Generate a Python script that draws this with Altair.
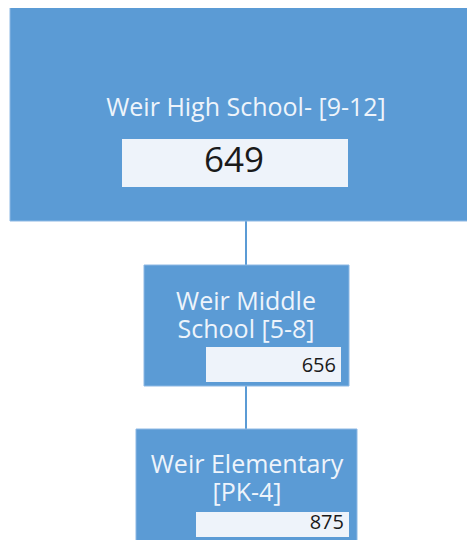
import altair as alt
import pandas as pd

# ---- data ----
schools = ["Weir High School- [9-12]", "Weir Middle\nSchool [5-8]", "Weir Elementary\n[PK-4]"]
enrollment = [649, 656, 875]

# ---- layout (diagram geometry, page pixel units) ----
box_x = [10, 144, 136]
box_x2 = [485, 349, 357]
box_y = [7, 265, 429]
box_y2 = [221, 386, 548]
label_x = [246, 246, 247]
label_y = [116, 310, 473]
vbox_x = [122, 206, 196]
vbox_x2 = [348, 341, 349]
vbox_y = [139, 347, 512]
vbox_y2 = [187, 382, 537]
val_x = [234, 336, 344]
val_y = [172, 372, 529]
link_x = [246, 246]
link_y = [221, 386]
link_y2 = [265, 429]

BLUE = "#5B9BD5"
PALE = "#EEF3FA"
FONT = "Open Sans"

boxes = pd.DataFrame({"school": schools, "x": box_x, "x2": box_x2, "y": box_y, "y2": box_y2,
                      "lx": label_x, "ly": label_y})
vboxes = pd.DataFrame({"x": vbox_x, "x2": vbox_x2, "y": vbox_y, "y2": vbox_y2,
                       "vx": val_x, "vy": val_y, "value": enrollment})
links = pd.DataFrame({"x": link_x, "y": link_y, "y2": link_y2})

W, H = 459, 532
xs = alt.Scale(domain=[8, 8 + W], range=[0, W], nice=False, zero=False)
ys = alt.Scale(domain=[8, 8 + H], range=[0, H], nice=False, zero=False)

X = lambda f: alt.X(f, type="quantitative", scale=xs, axis=None)
Y = lambda f: alt.Y(f, type="quantitative", scale=ys, axis=None)

rect = alt.Chart(boxes).mark_rect(color=BLUE, stroke="#8DB8E4", strokeWidth=1, clip=True).encode(
    x=X("x"), x2="x2", y=Y("y"), y2="y2")

labels = alt.Chart(boxes).mark_text(font=FONT, fontSize=25, color="#EEF4FB", lineBreak="\n",
                                    lineHeight=28, align="center", baseline="alphabetic").encode(
    x=X("lx"), y=Y("ly"), text="school:N")

vrect = alt.Chart(vboxes).mark_rect(color=PALE, clip=True).encode(
    x=X("x"), x2="x2", y=Y("y"), y2="y2")

vtext_top = alt.Chart(vboxes.iloc[[0]]).mark_text(font=FONT, fontSize=35, color="#1A1A1A",
                                                  align="center", baseline="alphabetic").encode(
    x=X("vx"), y=Y("vy"), text="value:Q")

vtext_rest = alt.Chart(vboxes.iloc[1:]).mark_text(font=FONT, fontSize=20, color="#1A1A1A",
                                                  align="right", baseline="alphabetic").encode(
    x=X("vx"), y=Y("vy"), text="value:Q")

rules = alt.Chart(links).mark_rule(color=BLUE, strokeWidth=2).encode(
    x=X("x"), y=Y("y"), y2="y2")

chart = alt.layer(rules, rect, labels, vrect, vtext_top, vtext_rest).properties(
    width=W, height=H, padding=0, autosize=alt.AutoSizeParams(type="none"),
    background="white"
).configure_view(stroke=None)

chart.save("out.html", embed_options={"renderer": "svg", "actions": False})
